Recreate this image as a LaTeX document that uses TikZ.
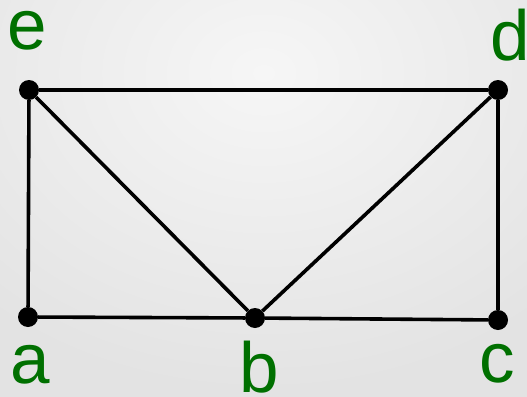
\documentclass[tikz,border=0pt]{standalone}
\usepackage{fontspec}
\setmainfont{Liberation Sans}
\definecolor{lblgreen}{RGB}{0,112,0}
\definecolor{bginner}{RGB}{246,246,246}
\definecolor{bgouter}{RGB}{214,214,214}
\begin{document}
\begin{tikzpicture}[x=1pt,y=-1pt,
  vtx/.style={circle,fill=black,inner sep=0pt,minimum size=20pt},
  edge/.style={line width=3.6pt,black},
  lbl/.style={text=lblgreen,font=\fontsize{71}{71}\selectfont,inner sep=0pt,anchor=base}]
\useasboundingbox (0,0) rectangle (527,396);
\shade[inner color=bginner,outer color=bgouter] (0,0) rectangle (527,396);
\shade[inner color=bginner,outer color=bginner!40!bgouter] (-150,-250) rectangle (677,396);
\node[vtx] (e) at (29,90) {};
\node[vtx] (d) at (498,90) {};
\node[vtx] (a) at (28,317) {};
\node[vtx] (b) at (255,318) {};
\node[vtx] (c) at (498,320) {};
\draw[edge] (e) -- (d);
\draw[edge] (e) -- (a);
\draw[edge] (e) -- (b);
\draw[edge] (d) -- (b);
\draw[edge] (d) -- (c);
\draw[edge] (a) -- (b);
\draw[edge] (b) -- (c);
\node[lbl] (le) at (27,50) {e};
\node[lbl] (ld) at (510,60) {d};
\node[lbl] (la) at (30,383) {a};
\node[lbl] (lb) at (259,392) {b};
\node[lbl] (lc) at (497,382) {c};
\end{tikzpicture}
\end{document}
